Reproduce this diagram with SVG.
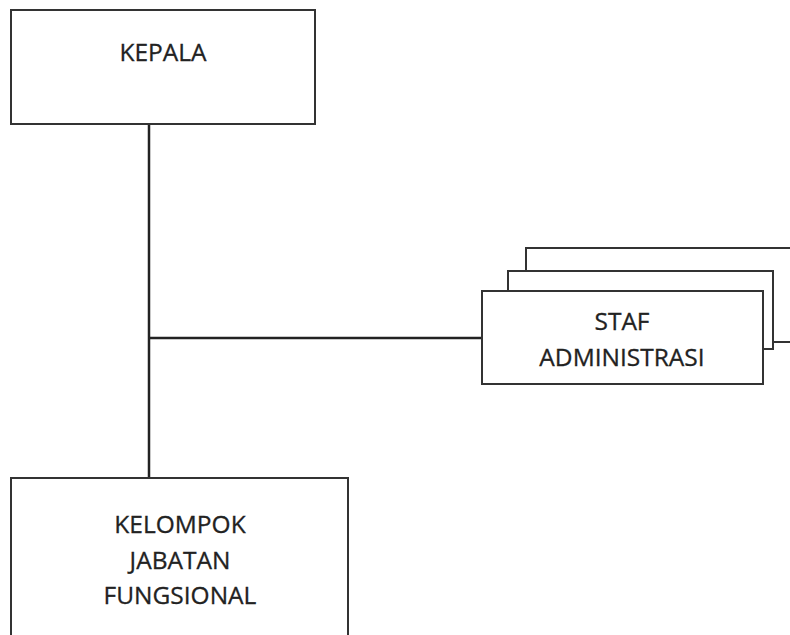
<svg xmlns="http://www.w3.org/2000/svg" width="790" height="635" viewBox="0 0 790 635">
<style>
.box{fill:#fff;stroke:#333;stroke-width:2}
.t{font-family:"Open Sans","Liberation Sans",sans-serif;font-size:24.5px;fill:#222;stroke:#222;stroke-width:0.3;text-anchor:middle}
.c{stroke:#222;stroke-width:2.5;fill:none}
</style>
<rect width="790" height="635" fill="#fff"/>
<g id="connectors">
<line class="c" x1="149" y1="124" x2="149" y2="478"/>
<line class="c" x1="149" y1="338" x2="482" y2="338"/>
</g>
<g id="kepala">
<rect class="box" x="11" y="10" width="304" height="114"/>
<text class="t" x="163" y="61">KEPALA</text>
</g>
<g id="staf">
<rect class="box" x="526" y="248" width="270" height="94"/>
<rect class="box" x="508" y="271" width="265" height="78"/>
<rect class="box" x="482" y="291" width="281" height="93"/>
<text class="t" x="622" y="330">STAF</text>
<text class="t" x="622" y="366">ADMINISTRASI</text>
</g>
<g id="kelompok">
<rect class="box" x="11" y="478" width="337" height="170"/>
<text class="t" x="180" y="533">KELOMPOK</text>
<text class="t" x="180" y="569">JABATAN</text>
<text class="t" x="180" y="604">FUNGSIONAL</text>
</g>
</svg>
